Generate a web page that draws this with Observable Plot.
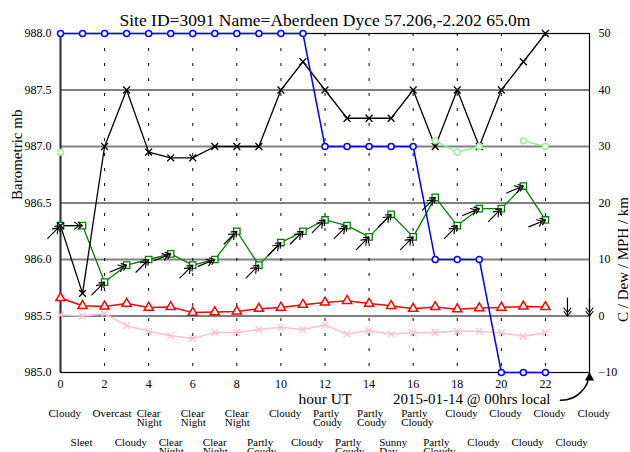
<!DOCTYPE html>
<html>
<head>
<meta charset="utf-8">
<script src="https://cdn.jsdelivr.net/npm/d3@7"></script>
<script src="https://cdn.jsdelivr.net/npm/@observablehq/plot@0.6"></script>
<style>
  html, body { margin: 0; padding: 0; background: #fff; }
  svg text { font-family: 'Liberation Serif', 'Times New Roman', serif; }
</style>
</head>
<body>
<div id="chart"></div>
<script>
// ---- data ----
const title = "Site ID=3091 Name=Aberdeen Dyce 57.206,-2.202 65.0m";
const hours = [0,1,2,3,4,5,6,7,8,9,10,11,12,13,14,15,16,17,18,19,20,21,22];
const pressure = [986.3,985.7,987.0,987.5,986.95,986.9,986.9,987.0,987.0,987.0,987.5,987.75,987.5,987.25,987.25,987.25,987.5,987.0,987.5,987.0,987.5,987.75,988.0];
const visibility = [50,50,50,50,50,50,50,50,50,50,50,50,30,30,30,30,30,10,10,10,-10,-10,-10];
const windSpeed = [16,16,6,9,10,11,9,10,15,9,13,15,17,16,14,18,14,21,16,19,19,23,17];
const windGust = [29,null,null,null,null,null,null,null,null,null,null,null,null,null,null,null,null,31,29,30,null,31,30];
const temperature = [3.2,1.8,1.7,2.2,1.5,1.6,0.6,0.7,0.8,1.3,1.5,2.0,2.4,2.7,2.2,1.8,1.3,1.6,1.2,1.4,1.5,1.7,1.6];
const dewPoint = [0.2,0.0,0.4,-1.7,-2.7,-3.5,-4.0,-2.9,-2.9,-2.4,-2.0,-2.4,-1.6,-3.2,-2.6,-3.2,-3.0,-2.9,-2.7,-2.7,-3.0,-3.6,-3.0];
const windHours = [0,1,2,3,4,5,6,7,8,9,10,11,12,13,14,15,16,17,18,19,20,21,22,23,24];
const windDir = [225,270,225,247.5,225,247.5,225,247.5,225,225,225,225,225,225,225,225,225,225,225,247.5,225,247.5,247.5,360,360];

const weatherHoursA = [0,2,4,6,8,10,12,14,16,18,20,22,24];
const weatherA = ["Cloudy","Overcast","Clear\nNight","Clear\nNight","Clear\nNight","Cloudy","Partly\nCoudy","Partly\nCoudy","Partly\nCloudy","Cloudy","Cloudy","Cloudy","Cloudy"];
const weatherHoursB = [1,3,5,7,9,11,13,15,17,19,21,23];
const weatherB = ["Sleet","Cloudy","Clear\nNight","Clear\nNight","Partly\nCoudy","Cloudy","Partly\nCoudy","Sunny\nDay","Partly\nCloudy","Cloudy","Cloudy","Cloudy"];

const xTicks = [0,2,4,6,8,10,12,14,16,18,20,22];
const vGrid = [2,4,6,8,10,12,14,16,18,20,22];
const rightTicks = [-10,0,10,20,30,40,50];
const pressureTicks = [985.0,985.5,986.0,986.5,987.0,987.5,988.0];
const gridBlack = [0,20,40];
const gridGray = [10,30];
const localLabel = [{hour: 24, text: "2015-01-14 @ 00hrs local"}];
const localArrow = [{x1: 22.68, y1: -14.9, x2: 24, y2: -10}];

// pressure (left axis, mb) mapped onto the right-axis scale
const toY = p => (p - 985) * 20 - 10;
const fromY = v => 985 + (v + 10) / 20;

const rows = hours.map((h, i) => ({
  hour: h,
  pressure: toY(pressure[i]),
  visibility: visibility[i],
  speed: windSpeed[i],
  gust: windGust[i],
  temp: temperature[i],
  dew: dewPoint[i]
}));
const winds = windHours.map((h, i) => ({hour: h, speed: windSpeed[i] ?? 0, dir: windDir[i]}));

const doubleArrow = {
  draw(ctx, l) {
    const w = 3.5, h = 4.5, gap = 3.5;
    ctx.moveTo(0, 0); ctx.lineTo(0, -l);
    ctx.moveTo(-w, -l + h); ctx.lineTo(0, -l); ctx.lineTo(w, -l + h);
    ctx.moveTo(-w, -l + h + gap); ctx.lineTo(0, -l + gap); ctx.lineTo(w, -l + h + gap);
  }
};

const serif = "'Liberation Serif', 'Times New Roman', serif";

const chart = Plot.plot({
  width: 630,
  height: 452,
  marginTop: 33,
  marginBottom: 80,
  marginLeft: 60,
  marginRight: 41,
  x: {domain: [0, 24]},
  y: {domain: [-10, 50]},
  style: {fontFamily: serif, fontSize: "12px", background: "#fff", color: "#000", overflow: "visible"},
  marks: [
    Plot.ruleY(gridGray, {stroke: "#808080", strokeWidth: 2}),
    Plot.ruleY(gridBlack, {stroke: "#000", strokeWidth: 1}),
    Plot.ruleX(vGrid, {stroke: "#000", strokeWidth: 1, strokeDasharray: "3,12"}),
    Plot.frame({stroke: "#000", strokeWidth: 1.2}),
    Plot.ruleX([0], {stroke: "#333", strokeWidth: 2}),
    Plot.axisX(xTicks, {tickSize: 0, tickPadding: 7, fontSize: 12, label: null}),
    Plot.axisY(pressureTicks.map(toY), {anchor: "left", tickSize: 0, tickPadding: 9, fontSize: 12, tickFormat: d => fromY(d).toFixed(1), label: null}),
    Plot.axisY(rightTicks, {anchor: "right", tickSize: 0, tickPadding: 9, fontSize: 12, label: null}),

    // dew point
    Plot.line(rows, {x: "hour", y: "dew", stroke: "pink", strokeWidth: 1.5}),
    Plot.dot(rows, {x: "hour", y: "dew", symbol: "times", r: 3.2, stroke: "pink", strokeWidth: 1.3}),
    // temperature
    Plot.line(rows, {x: "hour", y: "temp", stroke: "red", strokeWidth: 1.5}),
    Plot.dot(rows, {x: "hour", y: "temp", symbol: "triangle", r: 3.4, stroke: "red", fill: "#fff", strokeWidth: 1.5}),
    // wind speed
    Plot.line(rows, {x: "hour", y: "speed", stroke: "green", strokeWidth: 1.3}),
    Plot.dot(rows, {x: "hour", y: "speed", symbol: "square", r: 3.6, stroke: "green", fill: "#fff", strokeWidth: 1.3}),
    // pressure
    Plot.line(rows, {x: "hour", y: "pressure", stroke: "#000", strokeWidth: 1.3}),
    Plot.dot(rows, {x: "hour", y: "pressure", symbol: "times", r: 3.2, stroke: "#000", strokeWidth: 1.3}),
    // gust
    Plot.line(rows, {x: "hour", y: "gust", stroke: "lightgreen", strokeWidth: 1.3}),
    Plot.dot(rows, {x: "hour", y: "gust", r: 3, stroke: "lightgreen", fill: "#fff", strokeWidth: 1.3}),
    // visibility
    Plot.line(rows, {x: "hour", y: "visibility", stroke: "blue", strokeWidth: 1.5}),
    Plot.dot(rows, {x: "hour", y: "visibility", r: 3, stroke: "blue", fill: "#fff", strokeWidth: 1.5}),
    // wind direction arrows
    Plot.vector(winds, {x: "hour", y: "speed", rotate: d => d.dir - 180, length: 18, anchor: "end", shape: doubleArrow, stroke: "#000", strokeWidth: 1.2}),

    // texts
    Plot.text([title], {text: d => d, frameAnchor: "top", dy: -20, fontSize: 17.5, fontFamily: serif}),
    Plot.text(["Barometric mb"], {text: d => d, frameAnchor: "left", rotate: -90, dx: -43, dy: -3, fontSize: 15, fontFamily: serif}),
    Plot.text(["C / Dew / MPH / km"], {text: d => d, frameAnchor: "right", rotate: -90, dx: 34, dy: -6, fontSize: 15, fontFamily: serif}),
    Plot.text(["hour UT"], {text: d => d, frameAnchor: "bottom", dy: 31, fontSize: 15.5, fontFamily: serif}),
    Plot.text(localLabel, {x: "hour", text: "text", frameAnchor: "bottom", textAnchor: "end", dx: -39, dy: 31, fontSize: 15, fontFamily: serif}),
    Plot.arrow(localArrow, {x1: "x1", y1: "y1", x2: "x2", y2: "y2", bend: -45, headLength: 0, stroke: "#000", strokeWidth: 1.5}),
    Plot.dot(localArrow, {x: "x2", y: "y2", symbol: "triangle", r: 3.4, dy: 5.3, fill: "#000", stroke: "none"}),
    Plot.text(weatherA, {x: (d, i) => weatherHoursA[i], text: d => d, frameAnchor: "bottom", textAnchor: "start", lineAnchor: "top", dx: -12, dy: 38, fontSize: 11, lineHeight: 0.85, fontFamily: serif}),
    Plot.text(weatherB, {x: (d, i) => weatherHoursB[i], text: d => d, frameAnchor: "bottom", textAnchor: "start", lineAnchor: "top", dx: -12, dy: 67, fontSize: 11, lineHeight: 0.85, fontFamily: serif})
  ]
});
document.getElementById("chart").appendChild(chart);
</script>
</body>
</html>
